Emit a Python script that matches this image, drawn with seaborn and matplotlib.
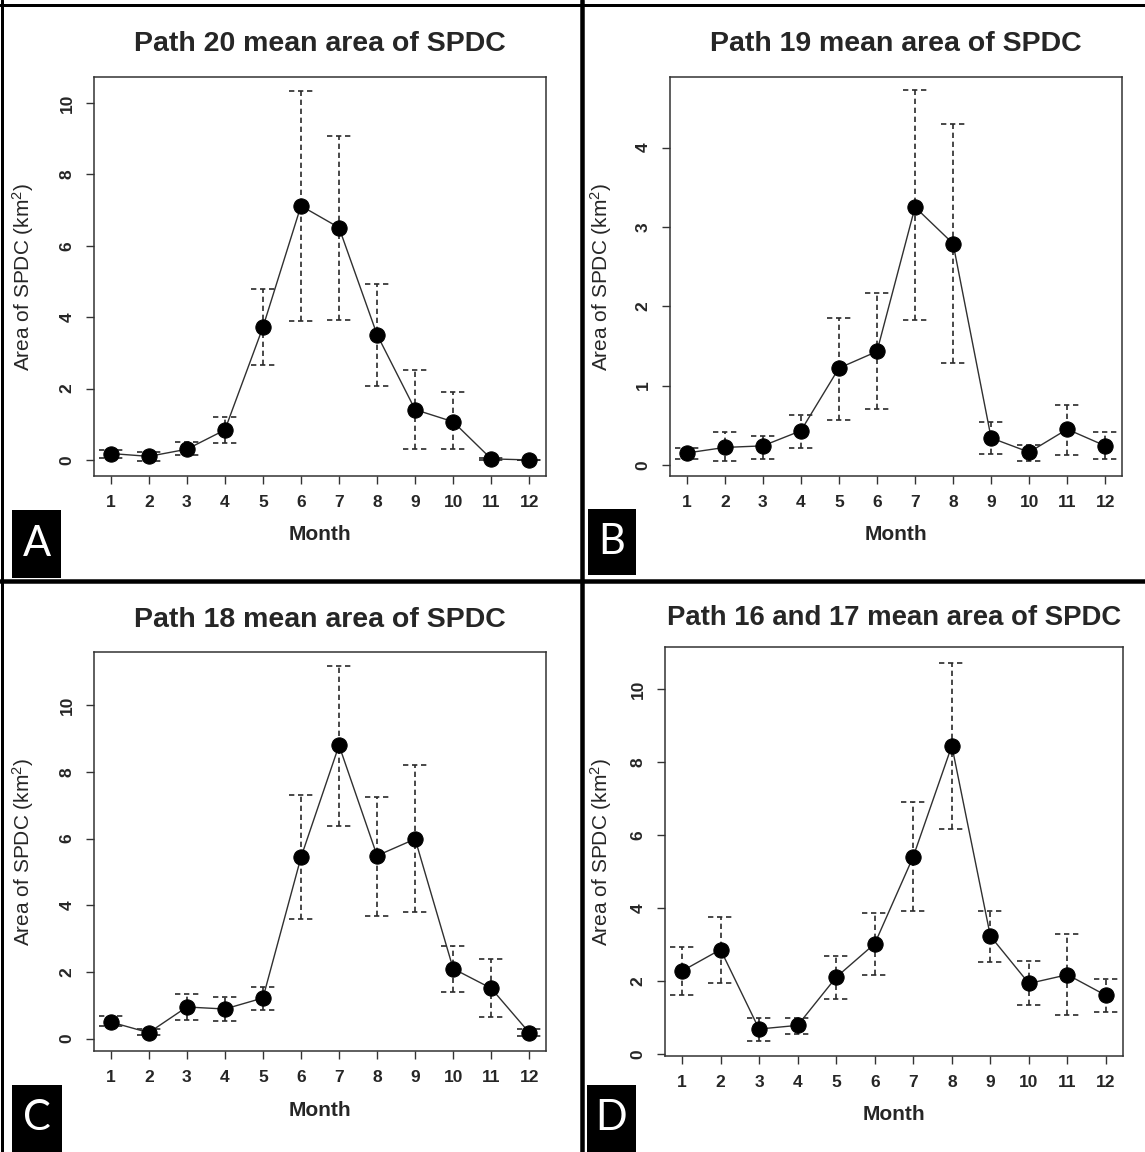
import numpy as np
import pandas as pd
import seaborn as sns
import matplotlib.pyplot as plt
from matplotlib.patches import Rectangle
from matplotlib.lines import Line2D

months = list(range(1, 13))

# Path 20
p20_mean = [0.18, 0.10, 0.30, 0.84, 3.72, 7.12, 6.51, 3.51, 1.41, 1.07, 0.03, 0.00]
p20_upper = [0.27, 0.21, 0.51, 1.21, 4.78, 10.34, 9.09, 4.94, 2.53, 1.89, 0.06, 0.01]
p20_lower = [0.06, -0.02, 0.13, 0.47, 2.65, 3.89, 3.93, 2.08, 0.30, 0.30, 0.00, -0.01]

# Path 19
p19_mean = [0.15, 0.22, 0.24, 0.43, 1.22, 1.43, 3.25, 2.79, 0.34, 0.16, 0.45, 0.24]
p19_upper = [0.21, 0.41, 0.37, 0.63, 1.85, 2.17, 4.72, 4.30, 0.54, 0.25, 0.75, 0.41]
p19_lower = [0.08, 0.05, 0.08, 0.21, 0.57, 0.70, 1.83, 1.28, 0.14, 0.05, 0.13, 0.07]

# Path 18
p18_mean = [0.50, 0.18, 0.95, 0.89, 1.22, 5.44, 8.80, 5.49, 5.99, 2.10, 1.51, 0.18]
p18_upper = [0.69, 0.30, 1.34, 1.24, 1.56, 7.32, 11.19, 7.26, 8.20, 2.79, 2.38, 0.30]
p18_lower = [0.38, 0.10, 0.57, 0.54, 0.87, 3.60, 6.38, 3.69, 3.80, 1.41, 0.66, 0.08]

# Path 16 and 17
p16_mean = [2.27, 2.86, 0.68, 0.78, 2.10, 3.02, 5.41, 8.45, 3.23, 1.93, 2.17, 1.60]
p16_upper = [2.92, 3.76, 0.99, 0.99, 2.69, 3.87, 6.92, 10.72, 3.93, 2.55, 3.29, 2.04]
p16_lower = [1.60, 1.93, 0.34, 0.53, 1.50, 2.16, 3.91, 6.16, 2.52, 1.34, 1.07, 1.16]

titles = ["Path 20 mean area of SPDC", "Path 19 mean area of SPDC",
          "Path 18 mean area of SPDC", "Path 16 and 17 mean area of SPDC"]
letters = ["A", "B", "C", "D"]

sns.set_style("ticks")
plt.rcParams['font.family'] = ['Liberation Sans', 'DejaVu Sans']
plt.rcParams['mathtext.default'] = 'regular'

W, H = 1145, 1152
fig = plt.figure(figsize=(W / 100, H / 100), dpi=100)

def px_rect(l, t, r, b):
    return [l / W, (H - b) / H, (r - l) / W, (b - t) / H]

panels = [
    dict(mean=p20_mean, lo=p20_lower, hi=p20_upper, ylim=(-0.45, 10.73), yticks=[0, 2, 4, 6, 8, 10],
         rect=px_rect(94, 77, 546, 476), ylab_x=-0.128, xlab_y=-0.123, pad=18.5, tsize=20.5,
         box=(12, 510, 61, 578)),
    dict(mean=p19_mean, lo=p19_lower, hi=p19_upper, ylim=(-0.14, 4.89), yticks=[0, 1, 2, 3, 4],
         rect=px_rect(670, 77, 1122, 476), ylab_x=-0.124, xlab_y=-0.123, pad=18.5, tsize=20.5,
         box=(588, 509, 636, 575)),
    dict(mean=p18_mean, lo=p18_lower, hi=p18_upper, ylim=(-0.37, 11.6), yticks=[0, 2, 4, 6, 8, 10],
         rect=px_rect(94, 652, 546, 1051), ylab_x=-0.128, xlab_y=-0.125, pad=18, tsize=20.5,
         box=(12, 1085, 62, 1152)),
    dict(mean=p16_mean, lo=p16_lower, hi=p16_upper, ylim=(-0.06, 11.16), yticks=[0, 2, 4, 6, 8, 10],
         rect=px_rect(665, 647, 1123, 1056), ylab_x=-0.111, xlab_y=-0.12, pad=16, tsize=19.8,
         box=(587, 1085, 636, 1152)),
]

dash = (0, (3.2, 2.2))
for p, title, letter in zip(panels, titles, letters):
    ax = fig.add_axes(p['rect'])
    df = pd.DataFrame({'month': months, 'mean': p['mean'], 'lower': p['lo'], 'upper': p['hi']})
    ax.vlines(df['month'], df['lower'], df['upper'], colors='#2a2a2a', linestyles=dash, lw=1.2, zorder=1)
    for col in ['upper', 'lower']:
        ax.hlines(df[col], df['month'] - 0.32, df['month'] + 0.32, colors='#2a2a2a',
                  linestyles=dash, lw=1.2, zorder=1)
    sns.lineplot(data=df, x='month', y='mean', ax=ax, color='#303030', lw=1.0,
                 marker='o', markersize=11, markerfacecolor='black',
                 markeredgecolor='black', zorder=3)
    ax.set_xlim(0.56, 12.44)
    ax.set_ylim(*p['ylim'])
    ax.set_xticks(months)
    ax.set_xticklabels([str(m) for m in months], fontweight='bold', fontsize=12.5)
    ax.set_yticks(p['yticks'])
    ax.set_yticklabels([str(v) for v in p['yticks']], rotation=90, va='center',
                       fontweight='bold', fontsize=12.5)
    ax.tick_params(direction='out', length=6, width=1, pad=8, color='#333333')
    for s in ax.spines.values():
        s.set_visible(True)
        s.set_color('#333333')
        s.set_linewidth(1.1)
    ax.set_title(title, fontsize=p['tsize'], fontweight='bold', pad=p['pad'])
    ax.set_xlabel('Month', fontsize=15, fontweight='bold')
    ax.set_ylabel('Area of SPDC (km$^2$)', fontsize=15)
    ax.yaxis.set_label_coords(p['ylab_x'], 0.5)
    ax.xaxis.set_label_coords(0.5, p['xlab_y'])

    l, t, r, b = p['box']
    fig.add_artist(Rectangle((l / W, (H - b) / H), (r - l) / W, (b - t) / H,
                             transform=fig.transFigure, facecolor='black', edgecolor='none'))
    fig.text((l + r) / 2 / W, (H - (t + b) / 2) / H, letter, color='white', fontsize=30,
             ha='center', va='center', family=['Lato', 'DejaVu Sans'])

# panel frame lines
frame = [((581.5 / W, 581.5 / W), (0, 1), 4.5),
         ((0, 1), ((H - 580.5) / H, (H - 580.5) / H), 4.5),
         ((1.5 / W, 1.5 / W), (0, 1), 3),
         ((0, 1), ((H - 4.5) / H, (H - 4.5) / H), 3)]
for xs, ys, w in frame:
    fig.add_artist(Line2D(xs, ys, transform=fig.transFigure, color='black', lw=w * 0.72))

fig.savefig('out.png', dpi=100)
